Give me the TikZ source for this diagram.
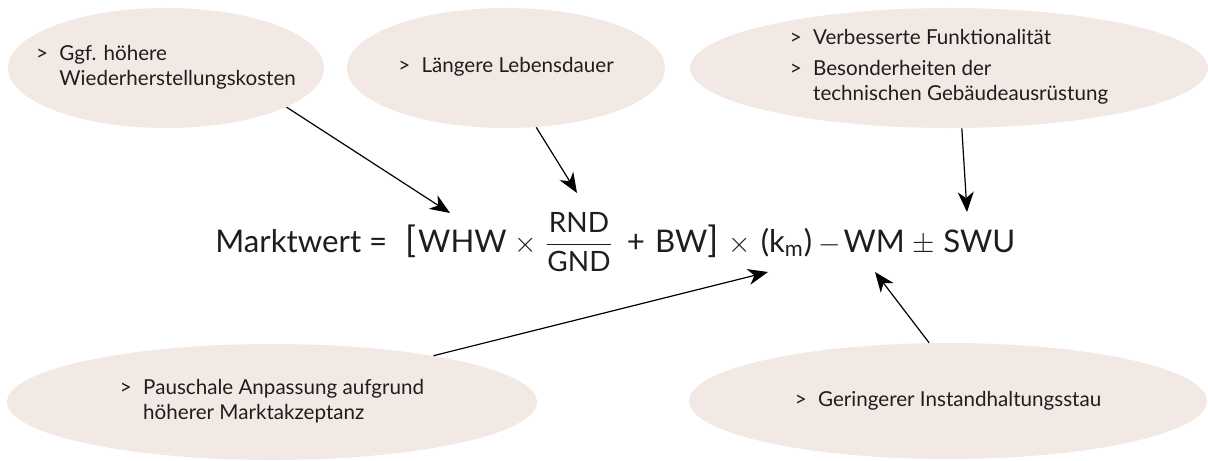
\documentclass[tikz,border=0pt]{standalone}
\usepackage{amsmath,amssymb}
\usepackage{fontspec}
\setmainfont{Lato}
\usepackage{tikz}
\usetikzlibrary{arrows,arrows.meta,shapes.geometric,positioning}
\definecolor{blase}{RGB}{242,233,229}
\definecolor{schrift}{RGB}{30,30,30}
% Aufzaehlung mit ">" und haengendem Einzug
\newenvironment{pkte}{\begin{tabular}{@{}l@{\hspace{0.55em}}l@{}}}{\end{tabular}}
\newcommand{\klammer}[1]{{\fontsize{18pt}{20pt}\selectfont #1}}
\newcommand{\bruch}[2]{$\genfrac{}{}{0.6pt}{0}{\text{\fontsize{14pt}{14pt}\selectfont #1}}{\text{\fontsize{14pt}{14pt}\selectfont #2}}$}
\tikzset{
    >={Stealth[length=10pt,width=8pt,inset=3pt]},
    bubble/.style={
        ellipse,
        fill=blase,
        inner sep=0pt,
        minimum height=60pt
    },
    bubbletext/.style={
        text=schrift,
        inner sep=0pt,
        font={\fontsize{10.3pt}{12.5pt}\selectfont}
    },
    pointer/.style={draw, line width=0.6pt, ->},
}

\begin{document}
\begin{tikzpicture}
[
    x=0.5pt, y=-0.5pt,
    formel/.style={text=schrift, inner sep=0pt, anchor=base west,
        font={\fontsize{15.6pt}{20pt}\selectfont}},
]
\useasboundingbox (0,0) rectangle (1208,460);
% Blasen oben
\node (kosten) at (166,68) [bubble, minimum width=158pt]{};
\node at (kosten) [bubbletext]{\begin{pkte}> & Ggf. h\"ohere\\ & Wiederherstellungskosten\end{pkte}};
\node (dauer) at (506,68) [bubble, minimum width=159pt]{};
\node at (dauer) [bubbletext]{\begin{pkte}> & L\"angere Lebensdauer\end{pkte}};
\node (funktion) at (949,68) [bubble, minimum width=259pt]{};
\node at (funktion) [bubbletext]{\begin{pkte}> & Verbesserte Funktionalit\"at\\[3pt]
    > & Besonderheiten der\\ & technischen Geb\"audeausr\"ustung\end{pkte}};
% Blasen unten
\node (pauschal) at (272,402) [bubble, minimum width=265pt, minimum height=58pt]{};
\node at (pauschal) [bubbletext]{\begin{pkte}> & Pauschale Anpassung aufgrund\\ & h\"oherer Marktakzeptanz\end{pkte}};
\node (stau) at (948,401) [bubble, minimum width=259pt, minimum height=58pt]{};
\node at (stau) [bubbletext]{\begin{pkte}> & Geringerer Instandhaltungsstau\end{pkte}};
% Formel
\node (formel) at (215,252) [formel]{Marktwert\hspace{4pt}=\hspace{9pt}\klammer{[}\hspace{1pt}WHW\hspace{4pt}$\times$\hspace{4pt}\bruch{RND}{GND}\hspace{7pt}+\hspace{5pt}BW\klammer{]}\hspace{5pt}$\times$\hspace{5pt}(k\textsubscript{m})\hspace{3pt}$-$\hspace{1.5pt}WM\hspace{4pt}$\pm$\hspace{4pt}SWU};
\coordinate (zwhw) at (450,213);
\coordinate (zbruch) at (577,193);
\coordinate (zswu) at (967,212);
\coordinate (zkm) at (768,272);
\coordinate (zwm) at (875,272);
% Pfeile
\draw[pointer] (kosten.-18) -- (zwhw);
\draw[pointer] (dauer.-63) -- (zbruch);
\draw[pointer] (funktion.-78) -- (zswu);
\draw[pointer] (pauschal.16) -- (zkm);
\draw[pointer] (stau.108) -- (zwm);
\end{tikzpicture}
\end{document}
